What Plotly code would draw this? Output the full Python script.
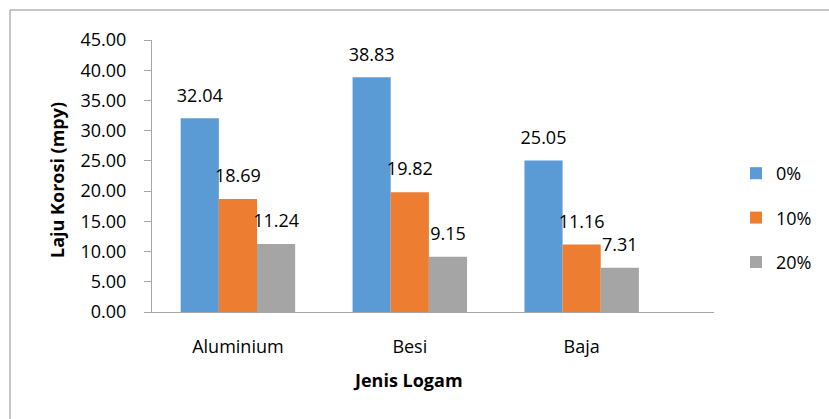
import plotly.graph_objects as go

categories = ["Aluminium", "Besi", "Baja"]
series_names = ["0%", "10%", "20%"]
values_0 = [32.04, 38.83, 25.05]
values_10 = [18.69, 19.82, 11.16]
values_20 = [11.24, 9.15, 7.31]
colors = ["#5B9BD5", "#ED7D31", "#A5A5A5"]
y_ticks = [0, 5, 10, 15, 20, 25, 30, 35, 40, 45]

W, H = 829, 419
L, R, T, B = 152, 115, 40, 107
pw, ph = W - L - R, H - T - B

def px_x(x):
    return (x - L) / pw

def px_y(y):
    return (H - B - y) / ph

FONT = "Open Sans"
FS = 18
GAP = 0.334
fig = go.Figure()
for name, vals, col in zip(series_names, [values_0, values_10, values_20], colors):
    fig.add_trace(go.Bar(
        x=categories, y=vals, name=name, marker_color=col,
        marker_line_width=0, offsetgroup=name,
        legendgroup=name,
    ))
for name, vals in zip(series_names, [values_0, values_10, values_20]):
    fig.add_trace(go.Scatter(
        x=categories, y=vals, mode="markers+text", offsetgroup=name,
        marker=dict(size=18, opacity=0), text=[f"{v:.2f}" for v in vals],
        textposition="top center", cliponaxis=False, showlegend=False,
        textfont=dict(family=FONT, size=FS, color="#000000"),
        hoverinfo="skip", legendgroup=name,
    ))

fig.update_layout(
    width=W, height=H,
    margin=dict(l=L, r=R, t=T, b=B, autoexpand=False),
    paper_bgcolor="white", plot_bgcolor="white",
    barmode="group", bargap=GAP, bargroupgap=0,
    scattermode="group", scattergap=GAP,
    font=dict(family=FONT, size=FS, color="#000000"),
    showlegend=True,
    legend=dict(x=px_x(736), y=px_y(155), xanchor="left", yanchor="top",
                font=dict(family=FONT, size=FS, color="#000000"),
                tracegroupgap=18, bgcolor="rgba(0,0,0,0)"),
    xaxis=dict(range=[-0.5, 2.77], showline=True, linecolor="#A6A6A6", linewidth=1,
               ticks="", showgrid=False, ticklabelstandoff=18, zeroline=False,
               tickfont=dict(family=FONT, size=FS, color="#000000")),
    yaxis=dict(range=[0, 45], tickvals=y_ticks, ticktext=[f"{v:.2f}" for v in y_ticks],
               showline=True, linecolor="#A6A6A6", linewidth=1,
               ticks="outside", ticklen=7, tickcolor="#A6A6A6",
               showgrid=False, zeroline=False, ticklabelstandoff=14,
               tickfont=dict(family=FONT, size=FS, color="#000000")),
    shapes=[dict(type="rect", xref="paper", yref="paper",
                 x0=px_x(10), x1=px_x(900), y0=px_y(500), y1=px_y(10),
                 line=dict(color="#8C8C8C", width=1), fillcolor="rgba(0,0,0,0)", layer="below")],
    annotations=[
        dict(text="<b>Laju Korosi (mpy)</b>", xref="paper", yref="paper",
             x=px_x(57), y=px_y(180), xanchor="center", yanchor="middle",
             textangle=-90, showarrow=False,
             font=dict(family=FONT, size=FS, color="#000000")),
        dict(text="<b>Jenis Logam</b>", xref="paper", yref="paper",
             x=px_x(408), y=px_y(380), xanchor="center", yanchor="middle",
             showarrow=False,
             font=dict(family=FONT, size=FS, color="#000000")),
    ],
)

fig.write_html("out.html")
